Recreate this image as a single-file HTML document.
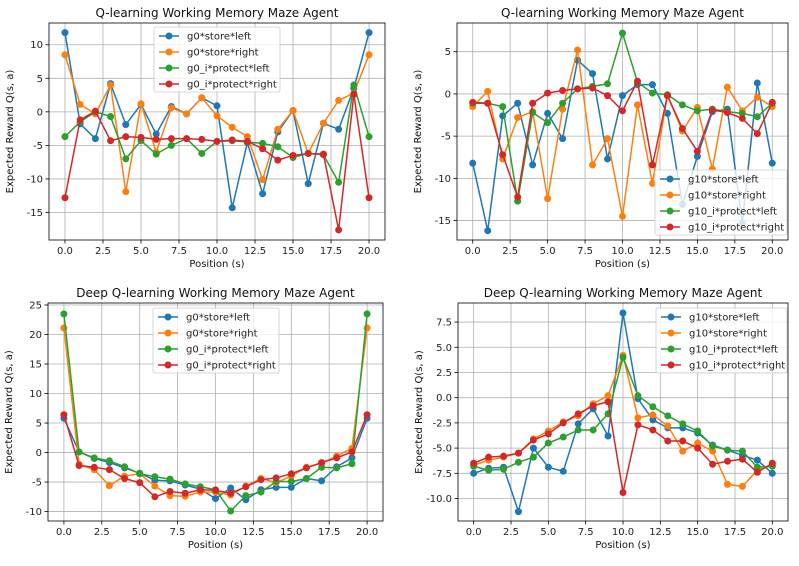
<!DOCTYPE html>
<html><head><meta charset="utf-8"><style>
body{margin:0;background:#fff;}
svg{display:block;font-family:"DejaVu Sans","Liberation Sans",sans-serif;}
</style></head><body>
<svg id="c" width="799" height="566" viewBox="0 0 799 566"></svg>
<script>
const xs=[0,1,2,3,4,5,6,7,8,9,10,11,12,13,14,15,16,17,18,19,20];
const xTicks=[0,2.5,5,7.5,10,12.5,15,17.5,20];
const colors=['#1f77b4','#ff7f0e','#2ca02c','#d62728'];
const p1Names=['g0*store*left','g0*store*right','g0_i*protect*left','g0_i*protect*right'];
const p2Names=['g10*store*left','g10*store*right','g10_i*protect*left','g10_i*protect*right'];
const p1Blue=[11.8,-1.8,-4,4.2,-1.9,1.1,-3.3,0.8,-0.3,2.1,0.9,-14.3,-4.6,-12.2,-3,0.2,-10.7,-1.7,-2.6,3.5,11.8];
const p1Orange=[8.5,1.1,-0.3,4.0,-11.9,1.2,-6.0,0.6,-0.3,2.1,-0.6,-2.3,-3.7,-10.1,-2.6,0.2,-6.2,-1.7,1.7,2.8,8.5];
const p1Green=[-3.7,-1.5,0,-0.7,-7.0,-4.3,-6.3,-5.0,-4.0,-6.2,-4.4,-4.3,-4.5,-4.7,-5.2,-6.8,-6.2,-6.4,-10.5,4.0,-3.7];
const p1Red=[-12.8,-1.2,0.1,-4.3,-3.7,-3.8,-4.1,-4.0,-4.0,-4.1,-4.4,-4.2,-4.4,-5.5,-7.2,-6.5,-6.2,-6.3,-17.6,2.6,-12.8];
const p2Blue=[-8.2,-16.2,-2.6,-1.1,-8.4,-2.3,-5.3,4.0,2.4,-7.7,-0.2,1.1,1.1,-2.3,-13.1,-7.4,-2.1,-1.8,-15.3,1.3,-8.2];
const p2Orange=[-1.5,0.3,-7.7,-2.8,-2.1,-12.4,-1.8,5.2,-8.4,-5.3,-14.5,-1.3,-10.6,-0.2,-4.4,-1.6,-8.9,0.8,-2.0,-0.4,-1.5];
const p2Green=[-1.1,-1.1,-1.5,-12.7,-2.2,-3.4,-1.1,0.6,0.9,1.2,7.2,1.4,0.1,-0.1,-1.3,-2.0,-1.8,-2.1,-2.3,-2.7,-1.1];
const p2Red=[-1.0,-1.1,-7.2,-12.2,-1.1,0.1,0.4,0.6,0.7,-0.2,-2.0,1.5,-8.4,-0.2,-4.1,-6.8,-1.9,-2.2,-2.9,-4.7,-1.0];
const p3Blue=[5.8,0.1,-1.0,-1.7,-2.6,-3.5,-4.7,-4.8,-5.5,-6.2,-7.8,-6.0,-8.0,-6.3,-5.9,-5.9,-4.4,-4.8,-2.4,-0.9,5.8];
const p3Orange=[21.1,-2.0,-2.9,-5.6,-4.0,-3.6,-5.7,-7.3,-7.4,-6.7,-6.7,-7.2,-5.7,-4.4,-5.1,-4.0,-2.5,-1.8,-0.6,0.7,21.1];
const p3Green=[23.5,0.1,-0.9,-1.4,-2.4,-3.6,-4.1,-4.5,-5.3,-5.8,-6.3,-9.9,-7.3,-6.7,-4.9,-4.9,-4.4,-2.5,-2.6,-1.9,23.5];
const p3Red=[6.4,-2.2,-2.5,-2.9,-4.4,-5.1,-7.5,-6.6,-6.9,-6.3,-6.4,-6.9,-5.8,-4.6,-4.3,-3.6,-2.6,-1.7,-0.9,0.1,6.4];
const p4Blue=[-7.5,-7.0,-6.9,-11.3,-5.0,-6.9,-7.3,-2.6,-1.1,-3.8,8.4,-0.1,-2.2,-3.0,-3.0,-3.5,-4.7,-5.2,-5.7,-6.2,-7.5];
const p4Orange=[-6.7,-6.2,-5.9,-5.5,-4.1,-3.3,-2.4,-1.8,-0.6,0.2,4.2,-2.0,-1.7,-2.8,-5.3,-4.5,-5.3,-8.6,-8.8,-7.2,-6.7];
const p4Green=[-6.8,-7.2,-7.1,-6.4,-5.9,-4.5,-3.9,-3.2,-3.2,-1.6,4.0,0.2,-0.9,-1.8,-2.6,-3.3,-4.8,-5.2,-5.3,-6.9,-6.8];
const p4Red=[-6.5,-5.9,-5.8,-5.5,-4.2,-3.6,-2.5,-1.6,-0.8,-0.4,-9.4,-2.7,-3.2,-4.3,-4.3,-5.0,-6.6,-6.3,-6.1,-7.4,-6.5];
const y1Ticks=[-15,-10,-5,0,5,10];
const y2Ticks=[-15,-10,-5,0,5];
const y3Ticks=[-10,-5,0,5,10,15,20,25];
const y4Ticks=[-10,-7.5,-5,-2.5,0,2.5,5,7.5];

const svg=document.getElementById('c');
const NS='http://www.w3.org/2000/svg';
function mk(tag,attrs,parent){const e=document.createElementNS(NS,tag);for(const k in attrs)e.setAttribute(k,attrs[k]);(parent||svg).appendChild(e);return e;}

const panels=[
 {id:'top-left',L:49,R:385,T:23,B:240,xmin:-1.05,xmax:21.05,ymin:-19.1,ymax:13.24,title:'Q-learning Working Memory Maze Agent',series:[p1Blue,p1Orange,p1Green,p1Red],names:p1Names,yt:y1Ticks,fmt:v=>String(v),leg:[154,27,126]},
 {id:'top-right',L:457,R:788,T:23,B:240,xmin:-1.05,xmax:21.05,ymin:-17.3,ymax:8.4,title:'Q-learning Working Memory Maze Agent',series:[p2Blue,p2Orange,p2Green,p2Red],names:p2Names,yt:y2Ticks,fmt:v=>String(v),leg:[655,170,132]},
 {id:'bottom-left',L:48,R:383,T:303,B:521,xmin:-1.05,xmax:21.05,ymin:-11.6,ymax:25.34,title:'Deep Q-learning Working Memory Maze Agent',series:[p3Blue,p3Orange,p3Green,p3Red],names:p1Names,yt:y3Ticks,fmt:v=>String(v),leg:[153,308,126]},
 {id:'bottom-right',L:458,R:788,T:303,B:521,xmin:-1.05,xmax:21.05,ymin:-12.23,ymax:9.39,title:'Deep Q-learning Working Memory Maze Agent',series:[p4Blue,p4Orange,p4Green,p4Red],names:p2Names,yt:y4Ticks,fmt:v=>v.toFixed(1),leg:[656,308,131]}
];

panels.forEach(p=>{
 const g=mk('g',{});
 
 
 const X=v=>p.L+(v-p.xmin)/(p.xmax-p.xmin)*(p.R-p.L);
 const Y=v=>p.B-(v-p.ymin)/(p.ymax-p.ymin)*(p.B-p.T);
 xTicks.forEach(t=>{
  const x=X(t);
  mk('line',{x1:x,x2:x,y1:p.T,y2:p.B,stroke:'#b0b0b0','stroke-width':0.8},g);
  mk('line',{x1:x,x2:x,y1:p.B,y2:p.B+3.5,stroke:'#000','stroke-width':0.8},g);
  const tx=mk('text',{x:x,y:p.B+14,'text-anchor':'middle','font-size':10,fill:'#222'},g);
  tx.textContent=t.toFixed(1);
  
  
 });
 p.yt.forEach(t=>{
  const y=Y(t);
  mk('line',{x1:p.L,x2:p.R,y1:y,y2:y,stroke:'#b0b0b0','stroke-width':0.8},g);
  mk('line',{x1:p.L-3.5,x2:p.L,y1:y,y2:y,stroke:'#000','stroke-width':0.8},g);
  const tx=mk('text',{x:p.L-6,y:y+3.5,'text-anchor':'end','font-size':10,fill:'#222'},g);
  tx.textContent=p.fmt(t);
  
  
 });
 p.series.forEach((s,i)=>{
  const pts=s.map((v,j)=>X(xs[j])+','+Y(v)).join(' ');
  const pl=mk('polyline',{points:pts,fill:'none',stroke:colors[i],'stroke-width':1.5},g);
  
  
  s.forEach((v,j)=>{
   const c=mk('circle',{cx:X(xs[j]),cy:Y(v),r:3.5,fill:colors[i]},g);
   
   
  });
 });
 const fr=mk('rect',{x:p.L,y:p.T,width:p.R-p.L,height:p.B-p.T,fill:'none',stroke:'#000','stroke-width':0.8},g);
 
 
 const ti=mk('text',{x:(p.L+p.R)/2,y:p.T-6,'text-anchor':'middle','font-size':12,fill:'#111'},g);
 ti.textContent=p.title;
 
 
 const xl=mk('text',{x:(p.L+p.R)/2,y:p.B+27,'text-anchor':'middle','font-size':10,fill:'#111'},g);
 xl.textContent='Position (s)';
 
 
 const cy=(p.T+p.B)/2, cx=p.L-36;
 const yl=mk('text',{x:cx,y:cy,'text-anchor':'middle','font-size':10,fill:'#111',transform:`rotate(-90 ${cx} ${cy})`},g);
 yl.textContent='Expected Reward Q(s, a)';
 
 
 const [lx,ly,lw]=p.leg;
 const lg=mk('g',{},g);
 
 
 mk('rect',{x:lx,y:ly,width:lw,height:65,rx:2,fill:'#fff','fill-opacity':0.8,stroke:'#ccc','stroke-width':0.8},lg);
 p.names.forEach((n,i)=>{
  const yy=ly+9+i*16;
  const e=mk('g',{},lg);
  
  
  mk('line',{x1:lx+5,x2:lx+25,y1:yy,y2:yy,stroke:colors[i],'stroke-width':1.5},e);
  mk('circle',{cx:lx+15,cy:yy,r:3.5,fill:colors[i]},e);
  const t=mk('text',{x:lx+33,y:yy+3.5,'font-size':10,fill:'#222'},e);
  t.textContent=n;
 });
});
</script>
</body></html>
